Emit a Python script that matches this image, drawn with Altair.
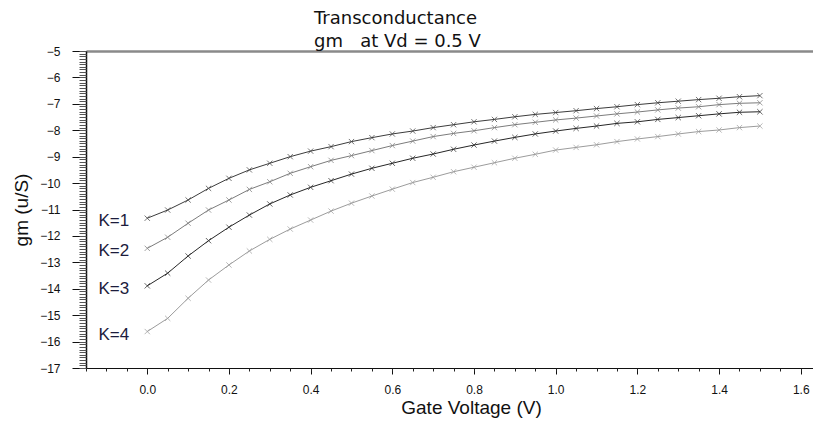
import altair as alt
import pandas as pd
import numpy as np

# ---- data ----
gate_v = [0.00, 0.05, 0.10, 0.15, 0.20, 0.25, 0.30, 0.35, 0.40, 0.45,
          0.50, 0.55, 0.60, 0.65, 0.70, 0.75, 0.80, 0.85, 0.90, 0.95,
          1.00, 1.05, 1.10, 1.15, 1.20, 1.25, 1.30, 1.35, 1.40, 1.45, 1.50]

gm_k1 = [-11.33, -11.02, -10.64, -10.20, -9.82, -9.50, -9.25, -9.00, -8.79, -8.62,
         -8.43, -8.28, -8.14, -8.03, -7.90, -7.79, -7.68, -7.59, -7.49, -7.40,
         -7.33, -7.26, -7.18, -7.11, -7.03, -6.96, -6.90, -6.84, -6.79, -6.73, -6.69]
gm_k2 = [-12.47, -12.05, -11.52, -11.02, -10.64, -10.24, -9.95, -9.63, -9.38, -9.14,
         -8.96, -8.77, -8.58, -8.41, -8.24, -8.12, -8.02, -7.90, -7.79, -7.70,
         -7.61, -7.54, -7.46, -7.38, -7.31, -7.23, -7.16, -7.11, -7.03, -6.98, -6.96]
gm_k3 = [-13.89, -13.41, -12.76, -12.18, -11.67, -11.21, -10.79, -10.45, -10.16, -9.91,
         -9.66, -9.44, -9.25, -9.06, -8.90, -8.72, -8.56, -8.41, -8.27, -8.14,
         -8.03, -7.93, -7.84, -7.74, -7.68, -7.59, -7.52, -7.45, -7.38, -7.32, -7.30]
gm_k4 = [-15.62, -15.12, -14.36, -13.67, -13.10, -12.57, -12.13, -11.74, -11.40, -11.06,
         -10.76, -10.49, -10.23, -9.98, -9.78, -9.57, -9.40, -9.23, -9.06, -8.91,
         -8.75, -8.65, -8.55, -8.43, -8.33, -8.24, -8.14, -8.05, -7.99, -7.90, -7.84]

series_names = ["K=1", "K=2", "K=3", "K=4"]
series_vals = [gm_k1, gm_k2, gm_k3, gm_k4]
series_colors = ["#3c3c3c", "#7c7c7c", "#262626", "#9c9c9c"]

x_major = [0.0, 0.2, 0.4, 0.6, 0.8, 1.0, 1.2, 1.4, 1.6]
x_minor = [round(-0.15 + 0.05 * i, 2) for i in range(36)]
y_major = list(range(-17, -4))
y_minor = [round(-17 + 0.1 * i, 1) for i in range(121)]

title_lines = ["Transconductance", "gm\u00a0\u00a0\u00a0at Vd = 0.5 V"]

rows = []
for name, vals in zip(series_names, series_vals):
    for xv, yv in zip(gate_v, vals):
        rows.append({"vg": xv, "gm": yv, "K": name})
df = pd.DataFrame(rows)

xs = alt.Scale(domain=[-0.15, 1.63], nice=False, zero=False)
ys = alt.Scale(domain=[-17, -5], nice=False, zero=False)
cs = alt.Scale(domain=series_names, range=series_colors)

base = alt.Chart(df)

lines = base.mark_line(strokeWidth=1).encode(
    x=alt.X("vg:Q", scale=xs, axis=alt.Axis(
        orient="bottom", values=x_major, format=".1f", tickSize=6, tickColor="#111",
        domainColor="#111", domainWidth=1, labelFont="Liberation Sans", labelFontSize=12,
        labelColor="#111", labelPadding=10, grid=False,
        title="Gate Voltage (V)", titleFont="Liberation Sans", titleFontSize=19,
        titleFontWeight="normal", titleColor="#111", titlePadding=3, titleX=385)),
    y=alt.Y("gm:Q", scale=ys, axis=alt.Axis(
        orient="left", values=y_major, format="d", tickSize=14, tickColor="#111",
        domainColor="#111", domainWidth=1.5, labelFont="Liberation Sans", labelFontSize=12,
        labelColor="#111", labelPadding=12, grid=False,
        title="gm (u/S)", titleFont="Liberation Sans", titleFontSize=19,
        titleFontWeight="normal", titleColor="#111", titlePadding=8)),
    color=alt.Color("K:N", scale=cs, legend=None),
    detail="K:N",
)

points = base.mark_point(
    shape="M-1,-1L1,1M-1,1L1,-1", filled=False, size=28, strokeWidth=1
).encode(
    x=alt.X("vg:Q", scale=xs, axis=None),
    y=alt.Y("gm:Q", scale=ys, axis=None),
    color=alt.Color("K:N", scale=cs, legend=None),
)

labels = base.transform_filter(alt.datum.vg == 0).mark_text(
    align="right", baseline="middle", dx=-18, dy=3,
    font="Liberation Sans", fontSize=17, color="#1c1c3c"
).encode(
    x=alt.X("vg:Q", scale=xs, axis=None),
    y=alt.Y("gm:Q", scale=ys, axis=None),
    text="K:N",
)

minor = base.mark_point(opacity=0).encode(
    x=alt.X("vg:Q", scale=xs, axis=alt.Axis(
        orient="bottom", values=x_minor, tickSize=3, tickColor="#222",
        labels=False, domain=False, grid=False, title=None)),
    y=alt.Y("gm:Q", scale=ys, axis=alt.Axis(
        orient="left", values=y_minor, tickSize=7, tickColor="#555",
        labels=False, domain=False, grid=False, title=None)),
)

top = base.mark_point(opacity=0).encode(
    x=alt.X("vg:Q", scale=xs, axis=alt.Axis(
        orient="top", ticks=False, labels=False, domainColor="#8a8a8a",
        domainWidth=2.5, grid=False, title=None)),
    y=alt.Y("gm:Q", scale=ys, axis=None),
)

chart = alt.layer(lines, points, labels, minor, top).resolve_axis(
    x="independent", y="independent"
).properties(
    width=727,
    height=317,
    autosize=alt.AutoSizeParams(type="none"),
    padding={"left": 78, "top": 43, "right": 0, "bottom": 52},
    title=alt.TitleParams(
        text=title_lines, anchor="start", frame="group", dx=228, dy=10,
        font="DejaVu Sans", fontSize=18, fontWeight="normal", color="#111",
        lineHeight=23, offset=4,
    ),
).configure_view(stroke=None)

chart.save("out.html", embed_options={"renderer": "svg", "actions": False})
